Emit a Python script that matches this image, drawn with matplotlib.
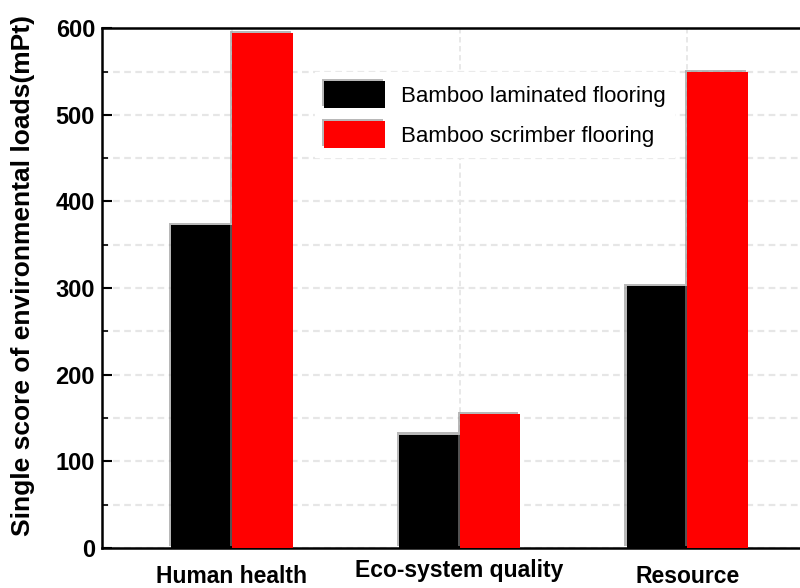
import numpy as np
import matplotlib.pyplot as plt
import matplotlib.patheffects as pe
import matplotlib.transforms as mtransforms
from matplotlib.ticker import MultipleLocator

plt.rcParams['font.family'] = ['Liberation Sans', 'DejaVu Sans']

categories = ['Human health', 'Eco-system quality', 'Resource']
laminated = [373, 131, 302]
scrimber = [594, 155, 549]
series_names = ['Bamboo laminated flooring', 'Bamboo scrimber flooring']

fig = plt.figure(figsize=(8, 5.88), dpi=100)
ax = fig.add_axes([0.1275, 0.068, 0.894, 0.884])

x = np.arange(len(categories))
w = 0.267
shadow = [pe.SimplePatchShadow(offset=(-1.5, 1.5), shadow_rgbFace='#8a8a8a', alpha=0.6), pe.Normal()]
b1 = ax.bar(x - w / 2, laminated, w, color='black', label=series_names[0], zorder=3)
b2 = ax.bar(x + w / 2, scrimber, w, color='#ff0000', label=series_names[1], zorder=3)
for bar in list(b1) + list(b2):
    bar.set_path_effects(shadow)

ax.set_xlim(-0.57, 2.57)
ax.set_ylim(0, 600)
ax.set_xticks(x)
ax.set_xticklabels(categories, fontsize=16.5, fontweight='bold')
ax.tick_params(axis='x', length=0, pad=12)
# middle label sits a little higher
mid = ax.get_xticklabels()[1]
mid.set_transform(mid.get_transform() + mtransforms.ScaledTranslation(0, 6 / 100, fig.dpi_scale_trans))

ax.yaxis.set_major_locator(MultipleLocator(100))
ax.yaxis.set_minor_locator(MultipleLocator(50))
ax.tick_params(axis='y', which='major', direction='in', length=7, width=1.5, labelsize=17, pad=5)
ax.tick_params(axis='y', which='minor', direction='in', length=4, width=1.2)
for lab in ax.get_yticklabels():
    lab.set_fontweight('bold')

ax.grid(True, which='both', axis='y', color='#e6e6e6', linestyle=(0, (3, 2)), linewidth=1.6, zorder=0)
ax.grid(True, which='major', axis='x', color='#e6e6e6', linestyle=(0, (3, 2)), linewidth=1.3, zorder=0)
for s in ['left', 'bottom', 'top', 'right']:
    ax.spines[s].set_linewidth(1.8)

ax.set_ylabel('Single score of environmental loads(mPt)', fontsize=19, fontweight='bold')
ax.yaxis.set_label_coords(-0.094, 0.525)

leg = ax.legend(loc='upper left', bbox_to_anchor=(0.298, 0.915), fontsize=16, frameon=True,
                fancybox=False, edgecolor='white', framealpha=1, handlelength=2.75,
                handleheight=1.5, handletextpad=0.7, labelspacing=0.55, borderaxespad=0)
leg.set_zorder(5)

fig.savefig('out.png', dpi=100)
